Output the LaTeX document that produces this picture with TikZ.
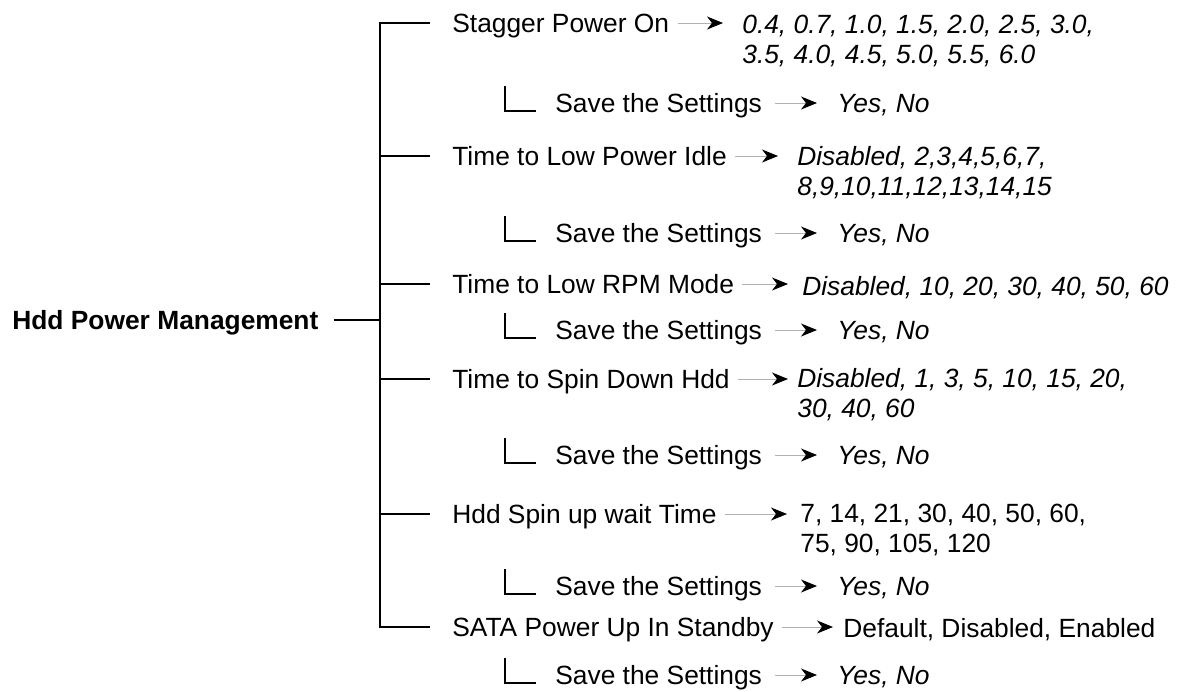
\documentclass[tikz,border=0pt]{standalone}
\usepackage{fontspec}
\setmainfont{Liberation Sans}
\usetikzlibrary{arrows.meta, positioning}

\begin{document}
\begin{tikzpicture}[
    x=0.02cm, y=-0.02cm,
    every node/.style={inner sep=0pt, font=\fontsize{15}{17}\selectfont},
    root/.style={anchor=west, text height=10.8pt, text depth=0pt, font=\fontsize{15}{17}\selectfont\bfseries},
    item/.style={anchor=west, text height=10.8pt, text depth=0pt},
    yesno/.style={item, font=\fontsize{15}{17}\selectfont\itshape},
    vals/.style={anchor=north west, align=left, font=\fontsize{15}{17}\selectfont\itshape},
    valsup/.style={anchor=north west, align=left},
    tree/.style={line width=0.9pt, black},
    arrow/.style={draw=gray!60, line width=0.5pt, -{Stealth[length=3.2mm, width=2.6mm, inset=1mm, color=black]}, shorten <=0.16cm, shorten >=0.38cm}
]
\useasboundingbox (0,0) rectangle (1181,691);

% Root and trunk
\node[root] (hpm) at (12,320) {Hdd Power Management};
\coordinate (trunk) at (380,0);

% Menu items
\node[item] (stagger) at (452,23) {Stagger Power On};
\node[item] (idle) at (452,156) {Time to Low Power Idle};
\node[item] (rpm) at (452,284) {Time to Low RPM Mode};
\node[item] (spindown) at (452,379) {Time to Spin Down Hdd};
\node[item] (spinup) at (452,514) {Hdd Spin up wait Time};
\node[item] (sata) at (452,627) {SATA Power Up In Standby};

% Value lists
\node[vals] (v1) at (742,15) {0.4, 0.7, 1.0, 1.5, 2.0, 2.5, 3.0,\\3.5, 4.0, 4.5, 5.0, 5.5, 6.0};
\node[vals] (v2) at (797,146) {Disabled, 2,3,4,5,6,7,\\8,9,10,11,12,13,14,15};
\node[vals] (v3) at (802,276) {Disabled, 10, 20, 30, 40, 50, 60};
\node[vals] (v4) at (797,368) {Disabled, 1, 3, 5, 10, 15, 20,\\30, 40, 60};
\node[valsup] (v5) at (800,504) {7, 14, 21, 30, 40, 50, 60,\\75, 90, 105, 120};
\node[valsup] (v6) at (843,618) {Default, Disabled, Enabled};

% Save the settings
\node[item] (save1) at (555,103) {Save the Settings};
\node[item] (save2) at (555,233) {Save the Settings};
\node[item] (save3) at (555,330) {Save the Settings};
\node[item] (save4) at (555,455) {Save the Settings};
\node[item] (save5) at (555,586) {Save the Settings};
\node[item] (save6) at (555,675) {Save the Settings};
\node[yesno] (yes1) at (837,103) {Yes, No};
\node[yesno] (yes2) at (837,233) {Yes, No};
\node[yesno] (yes3) at (837,330) {Yes, No};
\node[yesno] (yes4) at (837,455) {Yes, No};
\node[yesno] (yes5) at (837,586) {Yes, No};
\node[yesno] (yes6) at (837,675) {Yes, No};

% Tree lines
\draw[tree, shorten <=0.3cm] (hpm.east) -- (hpm.east -| trunk);
\draw[tree, shorten <=0.44cm, shorten >=0.44cm] (stagger.west) -- (stagger.west -| trunk) -- (sata.west -| trunk) -- (sata.west);
\draw[tree, shorten >=0.44cm] (idle.west -| trunk) -- (idle.west);
\draw[tree, shorten >=0.44cm] (rpm.west -| trunk) -- (rpm.west);
\draw[tree, shorten >=0.44cm] (spindown.west -| trunk) -- (spindown.west);
\draw[tree, shorten >=0.44cm] (spinup.west -| trunk) -- (spinup.west);

% Sub item corners
\draw[tree] (save1.west) ++(-50,-17) -- ++(0,25) -- ++(31,0);
\draw[tree] (save2.west) ++(-50,-17) -- ++(0,25) -- ++(31,0);
\draw[tree] (save3.west) ++(-50,-17) -- ++(0,25) -- ++(31,0);
\draw[tree] (save4.west) ++(-50,-17) -- ++(0,25) -- ++(31,0);
\draw[tree] (save5.west) ++(-50,-17) -- ++(0,25) -- ++(31,0);
\draw[tree] (save6.west) ++(-50,-17) -- ++(0,25) -- ++(31,0);

% Arrows to values
\draw[arrow] (stagger.east) -- (stagger.east -| v1.west);
\draw[arrow] (idle.east) -- (idle.east -| v2.west);
\draw[arrow, shorten >=0.28cm] (rpm.east) -- (rpm.east -| v3.west);
\draw[arrow, shorten >=0.18cm] (spindown.east) -- (spindown.east -| v4.west);
\draw[arrow, shorten >=0.26cm] (spinup.east) -- (spinup.east -| v5.west);
\draw[arrow, shorten >=0.2cm] (sata.east) -- (sata.east -| v6.west);
\draw[arrow, shorten <=0.26cm, shorten >=0.4cm] (save1.east) -- (yes1.west);
\draw[arrow, shorten <=0.26cm, shorten >=0.4cm] (save2.east) -- (yes2.west);
\draw[arrow, shorten <=0.26cm, shorten >=0.4cm] (save3.east) -- (yes3.west);
\draw[arrow, shorten <=0.26cm, shorten >=0.4cm] (save4.east) -- (yes4.west);
\draw[arrow, shorten <=0.26cm, shorten >=0.4cm] (save5.east) -- (yes5.west);
\draw[arrow, shorten <=0.26cm, shorten >=0.4cm] (save6.east) -- (yes6.west);

\end{tikzpicture}
\end{document}
